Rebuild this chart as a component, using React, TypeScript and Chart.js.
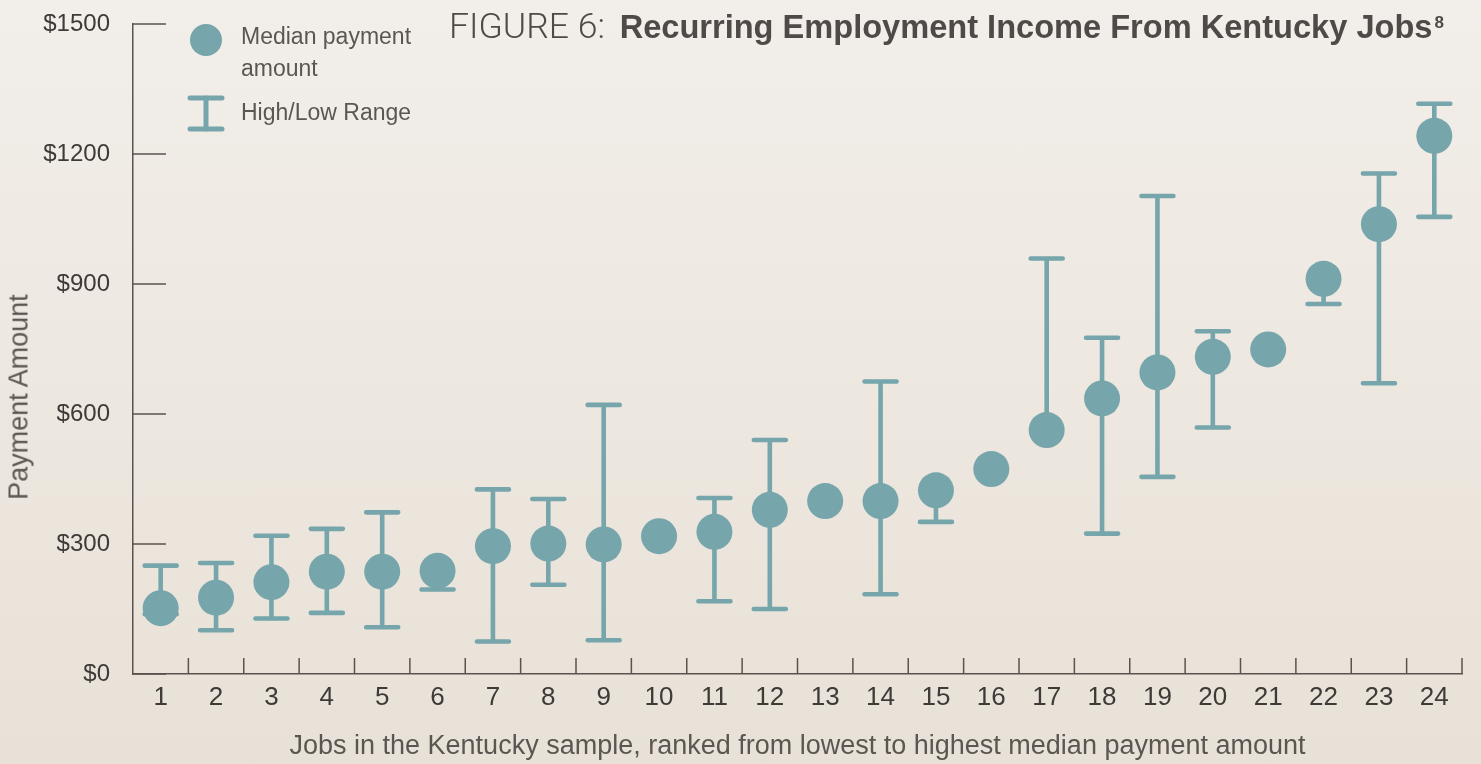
import React, { useEffect, useRef } from "react";
import { Chart, registerables } from "chart.js";

Chart.register(...registerables);

const JOBS = ["1", "2", "3", "4", "5", "6", "7", "8", "9", "10", "11", "12", "13", "14", "15", "16", "17", "18", "19", "20", "21", "22", "23", "24"];
const MEDIAN = [152, 176, 212, 236, 236, 238, 295, 301, 299, 318, 328, 379, 399, 399, 424, 473, 563, 636, 696, 732, 749, 912, 1038, 1242];
const HIGH = [250, 256, 319, 335, 373, 238, 426, 404, 621, 318, 406, 540, 399, 675, 424, 473, 959, 776, 1103, 791, 749, 912, 1155, 1316];
const LOW = [138, 101, 128, 141, 108, 195, 75, 206, 78, 318, 168, 150, 399, 184, 351, 473, 563, 324, 455, 569, 749, 854, 671, 1055];
const Y_TICKS = [0, 300, 600, 900, 1200, 1500];

const TEAL = "#76a5ab";
const AXIS = "#5a524e";
const TICK_TEXT = "#3f3a37";
const SOFT_TEXT = "#5c5652";
const FONT = "'Liberation Sans', Arial, sans-serif";

const errorBars = {
  id: "errorBars",
  beforeDatasetsDraw(chart: any) {
    const { ctx, scales } = chart;
    const x = scales.x;
    const y = scales.y;
    ctx.save();
    ctx.strokeStyle = TEAL;
    ctx.lineWidth = 4.6;
    ctx.lineCap = "round";
    JOBS.forEach((_, i) => {
      const px = x.getPixelForValue(i);
      const pm = y.getPixelForValue(MEDIAN[i]);
      [HIGH[i], LOW[i]].forEach((v) => {
        if (v === MEDIAN[i]) return;
        const pv = y.getPixelForValue(v);
        ctx.beginPath();
        ctx.moveTo(px, pm);
        ctx.lineTo(px, pv);
        ctx.moveTo(px - 16, pv);
        ctx.lineTo(px + 16, pv);
        ctx.stroke();
      });
    });
    ctx.restore();
  },
};

const axisTicks = {
  id: "axisTicks",
  afterDraw(chart: any) {
    const { ctx, scales } = chart;
    const x = scales.x;
    const y = scales.y;
    ctx.save();
    ctx.strokeStyle = AXIS;
    ctx.lineWidth = 1.5;
    Y_TICKS.forEach((v) => {
      const py = y.getPixelForValue(v);
      ctx.beginPath();
      ctx.moveTo(x.left, py);
      ctx.lineTo(x.left + 33, py);
      ctx.stroke();
    });
    for (let k = 1; k <= JOBS.length; k++) {
      const px = x.getPixelForValue(k - 0.5);
      ctx.beginPath();
      ctx.moveTo(px, y.bottom);
      ctx.lineTo(px, y.bottom - 16);
      ctx.stroke();
    }
    ctx.restore();
  },
};

export default function App() {
  const canvasRef = useRef<HTMLCanvasElement | null>(null);

  useEffect(() => {
    if (!canvasRef.current) return;
    const chart = new Chart(canvasRef.current, {
      type: "line",
      data: {
        labels: JOBS,
        datasets: [
          {
            label: "Median payment amount",
            data: MEDIAN,
            showLine: false,
            pointRadius: 18,
            pointHoverRadius: 18,
            pointBackgroundColor: TEAL,
            pointBorderWidth: 0,
            borderColor: TEAL,
            backgroundColor: TEAL,
          },
        ],
      },
      options: {
        animation: false,
        responsive: false,
        devicePixelRatio: 1,
        layout: { padding: { top: 24, right: 19, left: 0, bottom: 0 } },
        plugins: {
          legend: { display: false },
          tooltip: { enabled: false },
        },
        scales: {
          x: {
            offset: true,
            grid: { display: false },
            border: { display: true, color: AXIS, width: 1.5 },
            ticks: {
              color: TICK_TEXT,
              font: { family: FONT, size: 26 },
              padding: 0,
              maxRotation: 0,
              autoSkip: false,
            },
            title: {
              display: true,
              text: "Jobs in the Kentucky sample, ranked from lowest to highest median payment amount",
              color: SOFT_TEXT,
              font: { family: FONT, size: 27 },
              padding: { top: 0, bottom: 1 },
            },
            afterFit: (s: any) => {
              s.height = 90;
              s.paddingLeft = 0;
              s.paddingRight = 0;
            },
          },
          y: {
            min: 0,
            max: 1500,
            grid: { display: false },
            border: { display: true, color: AXIS, width: 1.5 },
            ticks: {
              stepSize: 300,
              color: TICK_TEXT,
              font: { family: FONT, size: 24 },
              padding: 15,
              callback: (v: any) => "$" + v,
            },
            afterFit: (s: any) => {
              s.width = 133;
              s.paddingTop = 0;
              s.paddingBottom = 0;
            },
          },
        },
      },
      plugins: [errorBars, axisTicks],
    });
    return () => chart.destroy();
  }, []);

  return (
    <div
      style={{
        position: "fixed",
        left: 0,
        top: 0,
        width: 1481,
        height: 764,
        overflow: "hidden",
        background: "linear-gradient(to bottom, #f2eee9 0%, #e8e1d7 100%)",
        fontFamily: FONT,
      }}
    >
      <canvas ref={canvasRef} width={1481} height={764} style={{ position: "absolute", left: 0, top: 0, display: "block" }} />
      <div
        style={{
          position: "absolute",
          left: 449,
          top: 6,
          fontSize: 32.6,
          lineHeight: "40px",
          color: "#4f4a47",
          whiteSpace: "nowrap",
        }}
      >
        <span style={{ fontFamily: "Roboto, sans-serif", fontWeight: 300, fontSize: 35.6 }}>FIGURE 6: </span>
        <span style={{ fontWeight: 700, marginLeft: 6 }}>Recurring Employment Income From Kentucky Jobs</span>
        <span style={{ fontWeight: 700, fontSize: 17, verticalAlign: "top", position: "relative", top: -3, marginLeft: 2 }}>8</span>
      </div>
      <div
        style={{
          position: "absolute",
          left: 190,
          top: 24,
          width: 32,
          height: 32,
          borderRadius: "50%",
          background: TEAL,
        }}
      />
      <svg width={44} height={44} style={{ position: "absolute", left: 186, top: 92 }}>
        <g stroke={TEAL} strokeWidth={5} strokeLinecap="round">
          <line x1={4} y1={6} x2={36} y2={6} />
          <line x1={20} y1={6} x2={20} y2={37} />
          <line x1={4} y1={37} x2={36} y2={37} />
        </g>
      </svg>
      <div
        style={{
          position: "absolute",
          left: 241,
          top: 20,
          fontSize: 23,
          lineHeight: "32px",
          color: SOFT_TEXT,
          whiteSpace: "nowrap",
        }}
      >
        Median payment
        <br />
        amount
      </div>
      <div
        style={{
          position: "absolute",
          left: 241,
          top: 96,
          fontSize: 23,
          lineHeight: "32px",
          color: SOFT_TEXT,
          whiteSpace: "nowrap",
        }}
      >
        High/Low Range
      </div>
      <div
        style={{
          position: "absolute",
          left: 19,
          top: 397,
          transform: "translate(-50%, -50%) rotate(-90deg)",
          fontSize: 27,
          color: SOFT_TEXT,
          whiteSpace: "nowrap",
        }}
      >
        Payment Amount
      </div>
    </div>
  );
}
